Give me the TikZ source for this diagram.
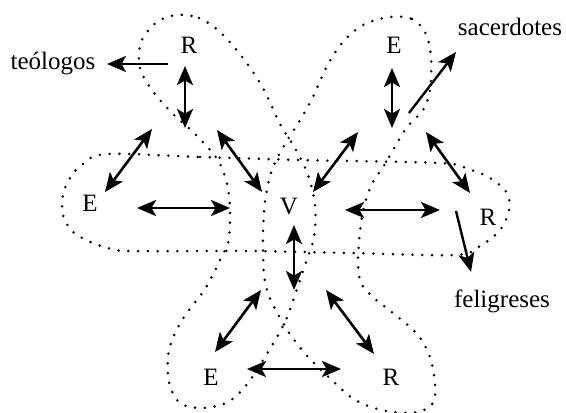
\documentclass[tikz,border=0pt]{standalone}
\usepackage{fontspec}
\setmainfont{Liberation Serif}
\usetikzlibrary{arrows.meta}

\tikzset{
  lbl/.style={font=\fontsize{25}{29}\selectfont, inner sep=0pt, anchor=base},
  petal/.style={line width=2.8pt, line cap=round, dash pattern=on 0pt off 9.8pt},
  tip/.tip={Stealth[length=19pt,width=16pt,inset=4.5pt]},
  twoway/.style={line width=2.6pt, tip-tip},
  oneway/.style={line width=2.4pt, -tip},
}

\begin{document}
\begin{tikzpicture}[x=1pt,y=-1pt]
\useasboundingbox (0,0) rectangle (566,413);

% three dotted petals, each passing through the centre
% horizontal petal: E (left) - V - R (right)
\draw[petal] plot[smooth cycle, tension=0.55] coordinates {
  (107,154) (200,157) (300,160) (440,163) (468,169) (490,178) (507,193)
  (509,210) (500,230) (480,246) (455,255) (350,253) (250,251) (130,251)
  (108,248) (88,241) (72,231) (63,215) (63,195) (70,178) (83,164)};

% upper-left to lower-left petal: R - V - E
\draw[petal] plot[smooth cycle, tension=0.55] coordinates {
  (177,15) (199,18) (220,32) (243,58) (263,88) (280,124) (295,148)
  (308,175) (315,205) (314,237) (306,262) (296,292) (285,322) (268,352)
  (248,383) (228,402) (203,408) (180,403) (169,382) (169,350) (182,320)
  (205,289) (221,258) (229,238) (229,195) (219,162) (196,135) (171,112)
  (152,90) (140,68) (141,42) (157,22)};

% upper-right to lower-right petal: E - V - R
\draw[petal] plot[smooth cycle, tension=0.55] coordinates {
  (390,17) (412,19) (426,34) (431,58) (430,90) (423,110) (408,126)
  (397,143) (385,164) (372,184) (364,207) (360,232) (358,262) (361,283)
  (374,298) (398,317) (418,335) (430,357) (435,384) (433,403) (418,412)
  (393,412) (371,407) (352,398) (336,384) (310,359) (292,337) (279,316)
  (269,296) (264,275) (263,240) (265,202) (272,170) (285,144) (299,122)
  (313,97) (326,68) (342,43) (363,25)};

% letters and words
\node[lbl] (Rt) at (189,53) {R};
\node[lbl] (Et) at (394,53) {E};
\node[lbl] (El) at (90,211) {E};
\node[lbl] (V)  at (289,214) {V};
\node[lbl] (Rr) at (488,225) {R};
\node[lbl] (Eb) at (211,385) {E};
\node[lbl] (Rb) at (391,385) {R};
\node[lbl] (teo) at (53,69) {teólogos};
\node[lbl] (sac) at (510,35) {sacerdotes};
\node[lbl] (fel) at (502,307) {feligreses};

% arrow end points
\coordinate (t1) at (168,64);   \coordinate (t2) at (107,64);
\coordinate (r1) at (185,66);   \coordinate (r2) at (185,128);
\coordinate (p1) at (152,129);  \coordinate (p2) at (105,192);
\coordinate (q1) at (217,130);  \coordinate (q2) at (262,192);
\coordinate (h1) at (137,208);  \coordinate (h2) at (230,208);
\coordinate (e1) at (392,68);   \coordinate (e2) at (392,128);
\coordinate (s1) at (409,113);  \coordinate (s2) at (456,52);
\coordinate (u1) at (358,132);  \coordinate (u2) at (313,192);
\coordinate (w1) at (426,132);  \coordinate (w2) at (470,193);
\coordinate (k1) at (345,210);  \coordinate (k2) at (440,210);
\coordinate (f1) at (456,211);  \coordinate (f2) at (471,272);
\coordinate (v1) at (294,225);  \coordinate (v2) at (294,290);
\coordinate (b1) at (261,290);  \coordinate (b2) at (215,352);
\coordinate (c1) at (326,290);  \coordinate (c2) at (374,354);
\coordinate (g1) at (247,369);  \coordinate (g2) at (341,369);

% arrows
\draw[oneway] (t1) -- (t2);
\draw[twoway] (r1) -- (r2);
\draw[twoway] (p1) -- (p2);
\draw[twoway] (q1) -- (q2);
\draw[twoway] (h1) -- (h2);
\draw[twoway] (e1) -- (e2);
\draw[oneway] (s1) -- (s2);
\draw[twoway] (u1) -- (u2);
\draw[twoway] (w1) -- (w2);
\draw[twoway] (k1) -- (k2);
\draw[oneway] (f1) -- (f2);
\draw[twoway] (v1) -- (v2);
\draw[twoway] (b1) -- (b2);
\draw[twoway] (c1) -- (c2);
\draw[twoway] (g1) -- (g2);
\end{tikzpicture}
\end{document}
